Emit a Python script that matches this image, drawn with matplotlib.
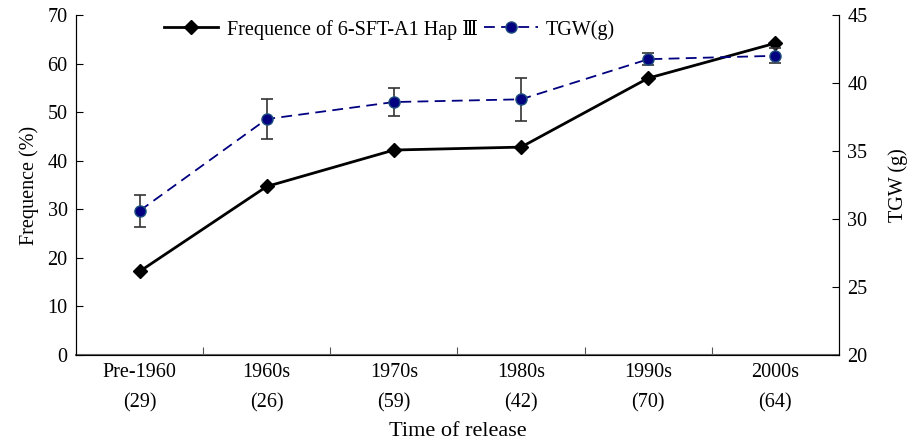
"""Frequence of 6-SFT-A1 Hap III and TGW across release periods."""
import matplotlib.pyplot as plt
import numpy as np

plt.rcParams["font.family"] = ["Liberation Serif", "DejaVu Serif"]

periods = ["Pre-1960", "1960s", "1970s", "1980s", "1990s", "2000s"]
counts = [29, 26, 59, 42, 70, 64]
freq = [17.2, 34.7, 42.2, 42.8, 57.0, 64.2]
tgw = [30.6, 37.35, 38.6, 38.8, 41.75, 42.0]
tgw_err = [1.2, 1.5, 1.05, 1.6, 0.45, 0.55]

x = np.arange(len(periods))

fig = plt.figure(figsize=(9.12, 4.41), dpi=100)
ax = fig.add_axes([76 / 912, 86 / 441, 763 / 912, 340 / 441])
ax2 = ax.twinx()

ln1, = ax.plot(x, freq, color="black", lw=2.0, marker="D", ms=7.5,
               label="Frequence of 6-SFT-A1 Hap \u2162", zorder=3)
ax2.errorbar(x, tgw, yerr=tgw_err, fmt="none", ecolor="#333333",
             elinewidth=1.2, capsize=4, capthick=1.2, zorder=2)
ln2, = ax2.plot(x, tgw, color="#000080", lw=1.3, ls=(0, (6, 3.5)), marker="o",
                ms=8, mfc="#000080", mec="#1f4f7f", label="TGW(g)", zorder=3)

ax.set_xlim(-0.5, len(periods) - 0.5)
ax.set_ylim(0, 70)
ax.set_yticks(range(0, 71, 10))
ax2.set_ylim(20, 45)
ax2.set_yticks(range(20, 46, 5))

# category labels centred, tick marks on the boundaries
ax.set_xticks(np.arange(0.5, len(periods) - 0.5, 1))
ax.set_xticklabels([])
ax.set_xticks(x, minor=True)
ax.set_xticklabels([f"{p}\n({c})" for p, c in zip(periods, counts)],
                   minor=True, fontsize=14.5, linespacing=1.75)
ax.tick_params(axis="x", which="minor", length=0, pad=6)
ax.tick_params(axis="x", which="major", direction="in", length=6, color="#555555")
ax.tick_params(axis="y", direction="in", length=5, labelsize=14.5, pad=6)
ax2.tick_params(axis="y", direction="in", length=5, labelsize=14.5, pad=6)

for a in (ax, ax2):
    a.spines["top"].set_visible(False)
ax.spines["bottom"].set_color("#666666")
ax.spines["bottom"].set_linewidth(1.5)

ax.set_ylabel("Frequence (%)", fontsize=14.5, labelpad=6)
ax2.set_ylabel("TGW (g)", fontsize=14.5, labelpad=15)
ax.set_xlabel("Time of release", fontsize=16, labelpad=7)

ax.legend(handles=[ln1, ln2], loc="upper center", bbox_to_anchor=(0.411, 1.04),
          ncol=2, frameon=False, fontsize=14.5, handlelength=2.7,
          columnspacing=0.3, handletextpad=0.4)

fig.savefig("out.png", dpi=100)
